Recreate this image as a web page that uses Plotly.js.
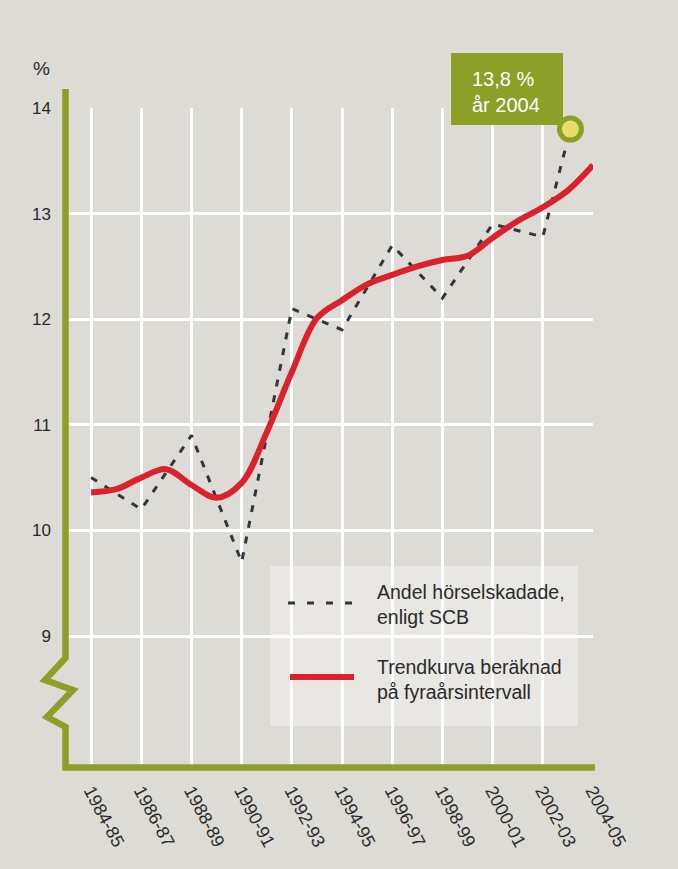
<!DOCTYPE html>
<html>
<head>
<meta charset="utf-8">
<script src="https://cdn.plot.ly/plotly-3.0.1.min.js"></script>
<style>html,body{margin:0;padding:0;background:#dcdbd6;}#chart{width:678px;height:869px;}</style>
</head>
<body>
<div id="chart"></div>
<script>
// Tick labels (two-year periods), positioned at index 0..10
const periodLabels = ["1984-85","1986-87","1988-89","1990-91","1992-93","1994-95","1996-97","1998-99","2000-01","2002-03","2004-05"];
const periodIndex = [0,1,2,3,4,5,6,7,8,9,10];

// Share of hearing impaired (SCB), dashed series
const scbX = [0,1,2,3,4,5,6,7,8,9,9.55];
const scbY = [10.5,10.2,10.9,9.7,12.1,11.9,12.7,12.2,12.9,12.78,13.8];

// Trend curve (four-year interval)
const trendX = [0,0.5,1,1.5,2,2.5,3,3.5,4,4.5,5,5.5,6,6.5,7,7.5,8,8.5,9,9.5,10];
const trendY = [10.36,10.39,10.5,10.58,10.43,10.31,10.45,10.93,11.5,12.01,12.18,12.33,12.42,12.5,12.56,12.6,12.77,12.93,13.06,13.22,13.46];

const yTicks = [9,10,11,12,13,14];

const GREEN = "#8c9f27";
const FONT = "Liberation Sans, Arial, sans-serif";
const TXT = "#2a2a2a";

const lastX = scbX[scbX.length-1];
const lastY = scbY[scbY.length-1];

const traces = [
  {x: scbX, y: scbY, mode: "lines", line: {color: "#30363b", width: 3, dash: "7px,9px"}, hoverinfo: "skip"},
  {x: trendX, y: trendY, mode: "lines", line: {color: "#d9222b", width: 6, shape: "spline", smoothing: 1}, hoverinfo: "skip"},
  {x: [lastX], y: [lastY], mode: "markers", marker: {size: 22, color: "#e9dc6b", line: {color: GREEN, width: 5}}, hoverinfo: "skip"}
];

// paper helpers: plot area 66..593 px (x), 108..768 px (y)
const px = v => (v - 66) / 527;
const py = v => (768 - v) / 660;

const layout = {
  width: 678, height: 869,
  margin: {l: 66, r: 85, t: 108, b: 101},
  paper_bgcolor: "#dcdbd6", plot_bgcolor: "#dcdbd6",
  showlegend: false,
  font: {family: FONT, color: TXT},
  xaxis: {
    range: [-0.5, 10], tickvals: periodIndex, ticktext: periodLabels,
    tickangle: 62, showgrid: true, gridcolor: "#ffffff", gridwidth: 3,
    zeroline: false, showline: false, ticks: "", fixedrange: true,
    tickfont: {family: FONT, size: 18, color: TXT}, ticklabelstandoff: 8
  },
  yaxis: {
    range: [7.75, 14], tickvals: yTicks, showgrid: true, gridcolor: "#ffffff", gridwidth: 3,
    zeroline: false, showline: false, ticks: "", fixedrange: true,
    tickfont: {family: FONT, size: 17, color: TXT}, ticklabelstandoff: 14
  },
  shapes: [
    // legend background
    {type: "rect", xref: "paper", yref: "paper", x0: px(270), x1: px(578), y0: py(726), y1: py(566),
     fillcolor: "#e8e7e3", line: {width: 0}, layer: "below"},
    // green axis with break
    {type: "path", xref: "paper", yref: "paper", layer: "above",
     path: `M${px(65.5)},${py(89)} L${px(65.5)},${py(658)} L${px(45)},${py(680)} L${px(73)},${py(690)} L${px(47)},${py(717)} L${px(65.5)},${py(727)} L${px(65.5)},${py(767.5)} L${px(595)},${py(767.5)}`,
     line: {color: GREEN, width: 6.5}},
    // legend samples
    {type: "line", xref: "paper", yref: "paper", x0: px(288), x1: px(352), y0: py(603), y1: py(603),
     line: {color: "#30363b", width: 3, dash: "7px,12px"}, layer: "above"},
    {type: "line", xref: "paper", yref: "paper", x0: px(290), x1: px(354), y0: py(677), y1: py(677),
     line: {color: "#d9222b", width: 6}, layer: "above"},
    // callout box
    {type: "rect", xref: "paper", yref: "paper", x0: px(451), x1: px(563), y0: py(125), y1: py(53),
     fillcolor: GREEN, line: {width: 0}, layer: "above"}
  ],
  annotations: [
    {xref: "paper", yref: "paper", x: px(41.5), y: py(68), text: "%", showarrow: false,
     font: {family: FONT, size: 19, color: TXT}, xanchor: "center", yanchor: "middle"},
    {xref: "paper", yref: "paper", x: px(470), y: py(79), text: "13,8 %", showarrow: false,
     font: {family: FONT, size: 20, color: "#ffffff"}, xanchor: "left", yanchor: "middle"},
    {xref: "paper", yref: "paper", x: px(470), y: py(105), text: "år 2004", showarrow: false,
     font: {family: FONT, size: 20, color: "#ffffff"}, xanchor: "left", yanchor: "middle"},
    {xref: "paper", yref: "paper", x: px(375), y: py(604), text: "Andel hörselskadade,<br>enligt SCB", showarrow: false,
     align: "left", font: {family: FONT, size: 19.5, color: TXT}, xanchor: "left", yanchor: "middle"},
    {xref: "paper", yref: "paper", x: px(375), y: py(679), text: "Trendkurva beräknad<br>på fyraårsintervall", showarrow: false,
     align: "left", font: {family: FONT, size: 19.5, color: TXT}, xanchor: "left", yanchor: "middle"}
  ]
};

Plotly.newPlot("chart", traces, layout, {staticPlot: true, displayModeBar: false});
</script>
</body>
</html>
